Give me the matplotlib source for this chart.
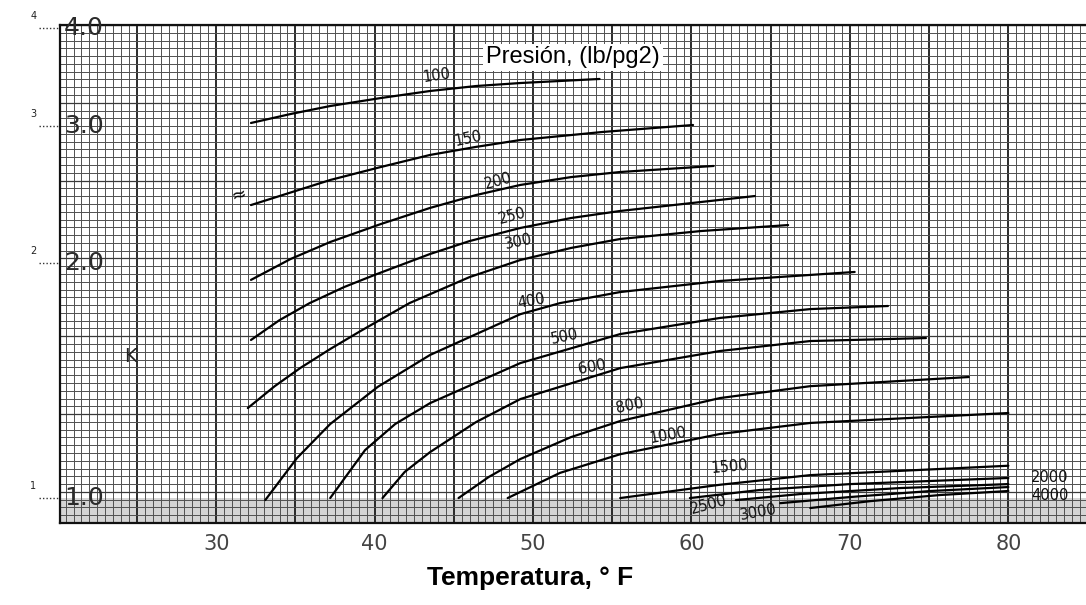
import numpy as np
import matplotlib
matplotlib.use("Agg")
import matplotlib.pyplot as plt
import matplotlib.transforms as mtransforms

# data: temperature (F) and K for each pressure curve (lb/pg2)
pressures = [100, 150, 200, 250, 300, 400, 500, 600, 800, 1000, 1500, 2000, 2500, 3000, 4000]

t_100 = [32.2, 34.7, 37.2, 40.4, 43.5, 46.4, 49.2, 54.2]
k_100 = [3.023, 3.104, 3.178, 3.254, 3.322, 3.371, 3.401, 3.442]
t_150 = [32.2, 37.2, 40.4, 43.5, 46.4, 49.2, 54.4, 60.1]
k_150 = [2.373, 2.555, 2.655, 2.751, 2.817, 2.875, 2.944, 3.005]
t_200 = [32.2, 34.7, 37.2, 40.4, 43.5, 46.4, 49.2, 52.4, 55.5, 61.4]
k_200 = [1.903, 2.024, 2.128, 2.244, 2.353, 2.444, 2.518, 2.577, 2.616, 2.663]
t_250 = [32.2, 34.0, 35.9, 38.1, 40.0, 43.5, 46.0, 49.2, 52.4, 55.5, 64.0]
k_250 = [1.594, 1.690, 1.777, 1.864, 1.931, 2.054, 2.134, 2.218, 2.284, 2.332, 2.437]
t_300 = [32.0, 33.7, 35.3, 37.2, 39.1, 42.2, 46.0, 49.2, 52.4, 55.5, 60.6, 66.1]
k_300 = [1.304, 1.391, 1.467, 1.552, 1.636, 1.777, 1.919, 2.018, 2.091, 2.147, 2.198, 2.237]
t_400 = [33.1, 35.1, 37.2, 40.2, 43.5, 49.2, 51.7, 55.5, 61.8, 70.3]
k_400 = [0.994, 1.125, 1.244, 1.388, 1.525, 1.72, 1.777, 1.836, 1.897, 1.948]
t_500 = [37.2, 39.4, 41.3, 43.5, 49.2, 55.5, 61.8, 67.5, 72.4]
k_500 = [1.00, 1.152, 1.244, 1.323, 1.489, 1.622, 1.701, 1.746, 1.762]
t_600 = [40.5, 41.9, 43.5, 46.4, 49.2, 55.5, 61.8, 67.5, 74.8]
k_600 = [1.00, 1.08, 1.145, 1.251, 1.339, 1.467, 1.543, 1.589, 1.603]
t_800 = [45.3, 47.2, 49.2, 52.4, 55.5, 61.8, 67.5, 77.5]
k_800 = [1.00, 1.064, 1.122, 1.197, 1.255, 1.343, 1.391, 1.429]
t_1000 = [48.4, 51.7, 55.5, 61.8, 67.5, 80.0]
k_1000 = [1.00, 1.077, 1.138, 1.208, 1.248, 1.285]
t_1500 = [55.5, 61.8, 67.5, 80.0]
k_1500 = [1.00, 1.04, 1.07, 1.10]
t_2000 = [59.9, 64.3, 70.0, 80.0]
k_2000 = [1.00, 1.024, 1.042, 1.061]
t_2500 = [62.8, 66.9, 73.2, 80.0]
k_2500 = [0.994, 1.012, 1.030, 1.042]
t_3000 = [65.6, 70.0, 75.1, 80.0]
k_3000 = [0.985, 1.003, 1.021, 1.033]
t_4000 = [67.5, 71.3, 75.7, 80.0]
k_4000 = [0.971, 0.991, 1.009, 1.021]

curves_t = [t_100, t_150, t_200, t_250, t_300, t_400, t_500, t_600, t_800,
            t_1000, t_1500, t_2000, t_2500, t_3000, t_4000]
curves_k = [k_100, k_150, k_200, k_250, k_300, k_400, k_500, k_600, k_800,
            k_1000, k_1500, k_2000, k_2500, k_3000, k_4000]

# where the hand-written pressure labels sit (T, K, rotation)
label_t = [43.9, 45.9, 47.8, 48.7, 49.1, 49.9, 52.0, 53.7, 56.1, 58.5, 62.4, 82.6, 61.1, 64.2, 82.6]
label_k = [3.48, 2.89, 2.55, 2.30, 2.13, 1.79, 1.61, 1.47, 1.315, 1.204, 1.096, 1.061, 0.980, 0.959, 1.009]
label_rot = [8, 12, 15, 15, 12, 10, 12, 10, 12, 10, 5, 0, 15, 10, 0]

x_ticks = [30, 40, 50, 60, 70, 80]
k_ticks = [1.0, 2.0, 3.0, 4.0]
k_tick_labels = ["1.0", "2.0", "3.0", "4.0"]
k_side_labels = ["1", "2", "3", "4"]

xmin, xmax = 20.15, 84.9
kmin, kmax = 0.929, 4.036

fig = plt.figure(figsize=(10.86, 6.05), dpi=100)
rect = [0.0553, 0.1355, 0.9447, 0.8232]

# graph paper underneath
bg = fig.add_axes(rect, zorder=0)
bg.set_xlim(xmin, xmax)
bg.set_ylim(0, 64)
bg.set_xticks(np.arange(25, 85, 5))
bg.set_xticks(np.arange(20.5, 85, 0.5), minor=True)
bg.set_yticks(np.arange(4, 65, 10))
bg.set_yticks(np.arange(0, 65, 1), minor=True)
bg.grid(which="minor", color="#505050", lw=0.7)
bg.grid(which="major", axis="x", color="#1a1a1a", lw=1.3)
bg.grid(which="major", axis="y", color="#3a3a3a", lw=0.9)
bg.tick_params(which="both", length=0, labelbottom=False, labelleft=False)
bg.axhspan(0, 3.2, color="#b8b8b8", alpha=0.6, lw=0)
for s in bg.spines.values():
    s.set_visible(False)

ax = fig.add_axes(rect, zorder=1)
ax.patch.set_alpha(0)
ax.set_yscale("log")
ax.set_xlim(xmin, xmax)
ax.set_ylim(kmin, kmax)
ax.spines["right"].set_visible(False)
for s in ["top", "left", "bottom"]:
    ax.spines[s].set_color("#111111")
    ax.spines[s].set_linewidth(1.6)

for tt, kk in zip(curves_t, curves_k):
    ax.plot(tt, kk, color="black", lw=1.6, solid_capstyle="round",
            solid_joinstyle="round")

for p, x, y, r in zip(pressures, label_t, label_k, label_rot):
    ax.text(x, y, str(p), fontsize=10.5, rotation=r, ha="center", va="center",
            color="#111111")

ax.text(31.4, 2.44, "≈", fontsize=13, rotation=15, ha="center", va="center")

ax.set_xticks(x_ticks)
ax.set_xticklabels([str(v) for v in x_ticks], fontsize=15, color="#444444")
ax.tick_params(axis="x", length=0, pad=8)
ax.set_yticks([])
ax.yaxis.set_minor_locator(matplotlib.ticker.NullLocator())
ax.yaxis.set_minor_formatter(matplotlib.ticker.NullFormatter())

trans = mtransforms.blended_transform_factory(ax.transAxes, ax.transData)
for k, lab, side in zip(k_ticks, k_tick_labels, k_side_labels):
    ax.text(0.004, k, lab, transform=trans, fontsize=18, ha="left", va="center",
            color="#2a2a2a")
    ax.text(-0.026, k * 1.02, side, transform=trans, fontsize=7, ha="center",
            va="bottom", color="#222222", clip_on=False)
    ax.plot([-0.021, 0.0], [k, k], transform=trans, color="#333333", lw=1,
            ls=(0, (1, 1.5)), clip_on=False)

ax.text(24.6, 1.516, "K", fontsize=14, ha="center", va="center", color="#222222")

ax.text(0.5, 0.935, "Presión, (lb/pg2)", transform=ax.transAxes, fontsize=17,
        family="Liberation Sans", ha="center", va="center",
        bbox=dict(facecolor="white", edgecolor="none", pad=2))

fig.text(0.488, 0.045, "Temperatura, ° F", fontsize=19, fontweight="bold",
         family="Liberation Sans", ha="center", va="center")

fig.savefig("out.png", dpi=100)
